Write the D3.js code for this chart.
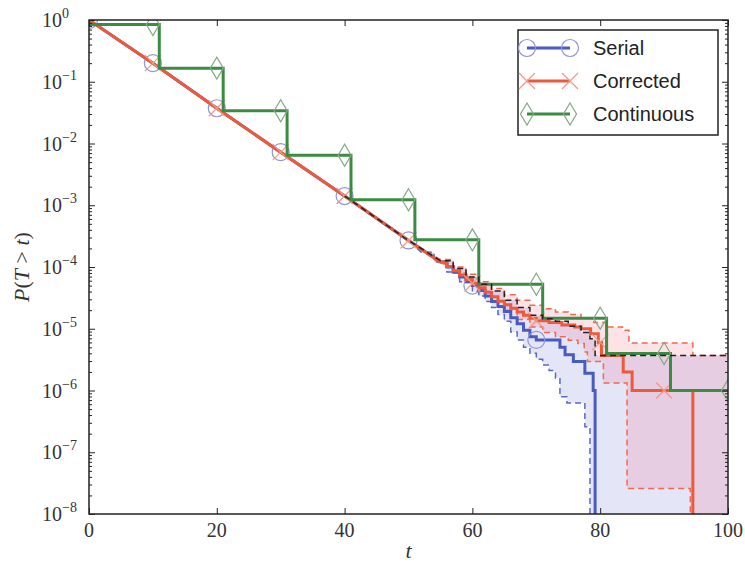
<!DOCTYPE html>
<html>
<head>
<meta charset="utf-8">
<script src="https://cdn.jsdelivr.net/npm/d3@7"></script>
<style>
  body { margin: 0; background: #fff; }
  svg { display: block; }
</style>
</head>
<body>
<div id="chart"></div>
<script>
// straight part shared by all estimators (t <= 50)
const headT = [0, 10, 20, 30, 40, 50];
const headP = [1, 0.20, 0.0372, 0.00724, 0.00141, 2.69e-4];

// Serial estimator: tail steps, then its band (lower dashed / upper black dashed)
const serialT = [55, 56, 57, 58, 59, 60, 61, 62, 63, 64, 65, 66, 67, 68, 69, 70, 73.7, 74.5, 75.8, 77.6, 78.9, 79.2];
const serialP = [1.2e-4, 1.0e-4, 8.3e-5, 6.9e-5, 5.75e-5, 5.0e-5, 4.17e-5, 3.39e-5, 2.75e-5, 2.29e-5, 1.91e-5, 1.51e-5, 1.2e-5, 9.5e-6, 7.4e-6, 6.6e-6, 5.0e-6, 3.8e-6, 2.95e-6, 1.9e-6, 1.0e-6, 0];
const serialLoT = [52, 54, 56, 58, 60, 61, 62, 63, 64, 65, 66, 67, 68, 69, 70, 71, 72, 73, 73.7, 74.8, 77.6, 78.4];
const serialLoP = [1.74e-4, 1.2e-4, 8.3e-5, 5.75e-5, 4.0e-5, 3.4e-5, 2.75e-5, 2.2e-5, 1.7e-5, 1.32e-5, 8.9e-6, 6.6e-6, 5.0e-6, 4.0e-6, 3.2e-6, 2.6e-6, 2.1e-6, 1.6e-6, 7.9e-7, 6.3e-7, 2.6e-7, 0];
const serialHiT = [55, 57, 59, 61, 63, 65, 67, 69, 71, 73, 75, 77, 78.4, 79.2, 100];
const serialHiP = [1.26e-4, 9.5e-5, 6.9e-5, 5.25e-5, 4.1e-5, 2.9e-5, 2.2e-5, 1.66e-5, 1.45e-5, 1.32e-5, 1.1e-5, 8.7e-6, 6.9e-6, 3.7e-6, 3.7e-6];

// Corrected estimator and its band
const correctedT = [55, 56, 57, 58, 59, 60, 61, 62, 63, 64, 65, 66, 67, 68, 69, 70, 72, 74, 76, 77, 78.5, 79.7, 80.2, 83.6, 85, 94.5];
const correctedP = [1.2e-4, 1.02e-4, 8.7e-5, 7.4e-5, 6.3e-5, 5.4e-5, 4.6e-5, 3.9e-5, 3.3e-5, 2.8e-5, 2.45e-5, 2.14e-5, 1.86e-5, 1.66e-5, 1.48e-5, 1.35e-5, 1.26e-5, 1.15e-5, 1.07e-5, 1.0e-5, 8.3e-6, 6.0e-6, 3.7e-6, 2.0e-6, 1.0e-6, 0];
const correctedHiT = [55, 57, 59, 61, 63, 65, 67, 69, 71, 73, 75, 77, 79, 81, 83.5, 84.5, 94.5, 100];
const correctedHiP = [1.32e-4, 1.0e-4, 7.6e-5, 5.75e-5, 4.5e-5, 3.55e-5, 2.9e-5, 2.4e-5, 2.1e-5, 1.86e-5, 1.7e-5, 1.51e-5, 1.26e-5, 1.07e-5, 9.5e-6, 5.9e-6, 3.7e-6, 3.7e-6];
const correctedLoT = [55, 57, 59, 61, 63, 65, 67, 69, 71, 73, 75, 76.5, 77.5, 78, 80.5, 84.2, 94.1];
const correctedLoP = [1.12e-4, 7.9e-5, 5.6e-5, 4.0e-5, 2.8e-5, 2.0e-5, 1.41e-5, 1.07e-5, 8.7e-6, 7.4e-6, 6.5e-6, 5.75e-6, 4.2e-6, 2.95e-6, 1.32e-6, 2.6e-8, 0];

// Continuous: coarse staircase
const continuousT = [0, 11, 21, 31, 41, 51, 61, 71, 81, 91, 100];
const continuousP = [0.845, 0.166, 0.0339, 0.00646, 0.00123, 2.75e-4, 5.25e-5, 1.48e-5, 3.98e-6, 1.0e-6, 1.0e-6];

// markers every 10
const serialMarkT = [0, 10, 20, 30, 40, 50, 60, 70];
const serialMarkP = [1, 0.20, 0.0372, 0.00724, 0.00141, 2.69e-4, 5.0e-5, 6.6e-6];
const correctedMarkT = [10, 20, 30, 40, 50, 60, 70, 80, 90];
const correctedMarkP = [0.20, 0.0372, 0.00724, 0.00141, 2.69e-4, 5.4e-5, 1.35e-5, 6.0e-6, 1.0e-6];
const continuousMarkT = [10, 20, 30, 40, 50, 60, 70, 80, 90, 100];
const continuousMarkP = [0.845, 0.166, 0.0339, 0.00646, 0.00123, 2.75e-4, 5.25e-5, 1.48e-5, 3.98e-6, 1.0e-6];

const xTicks = [0, 20, 40, 60, 80, 100];
const yExponents = [0, -1, -2, -3, -4, -5, -6, -7, -8];
const legendLabels = ["Serial", "Corrected", "Continuous"];

const BLUE = "#4a5bbf", RED = "#ec5a3c", GREEN = "#3b8b43";

const margin = { top: 20, right: 17, bottom: 57, left: 89 };
const width = 745 - margin.left - margin.right;
const height = 571 - margin.top - margin.bottom;

const svg = d3.select("#chart").append("svg")
  .attr("width", 745).attr("height", 571)
  .style("background", "#fff");

const g = svg.append("g").attr("transform", `translate(${margin.left},${margin.top})`);

const x = d3.scaleLinear().domain([0, 100]).range([0, width]);
const y = d3.scaleLog().domain([1e-8, 1]).range([height, 0]);
const yv = p => p > 0 ? y(p) : height + 30;

// head points (linear) followed by step-after points
function curvePts(hT, hP, sT, sP) {
  const pts = hT.map((t, i) => [t, hP[i]]);
  sT.forEach((t, i) => {
    if (i > 0) pts.push([t, sP[i - 1]]);
    pts.push([t, sP[i]]);
  });
  return pts;
}

const line = d3.line().x(d => x(d[0])).y(d => yv(d[1]));

g.append("clipPath").attr("id", "plot-clip")
  .append("rect").attr("width", width).attr("height", height);

const plot = g.append("g").attr("clip-path", "url(#plot-clip)");

const serialPts = curvePts(headT, headP, serialT, serialP);
const serialLo = curvePts(headT, headP, serialLoT, serialLoP);
const serialHi = curvePts(headT.slice(4), headP.slice(4), serialHiT, serialHiP);
const corrPts = curvePts(headT, headP, correctedT, correctedP);
const corrHi = curvePts(headT, headP, correctedHiT, correctedHiP);
const corrLo = curvePts(headT, headP, correctedLoT, correctedLoP);
const contPts = curvePts([], [], continuousT, continuousP);

// bands: upper forward, lower backward; a lower bound that hit zero stays at zero
function band(upper, lower, color) {
  const lo = lower.filter(d => d[0] >= upper[0][0]);
  const endT = upper[upper.length - 1][0];
  if (lo[lo.length - 1][0] < endT) lo.push([endT, 0]);
  plot.append("path")
    .attr("d", line(upper.concat(lo.reverse())) + "Z")
    .attr("fill", color)
    .attr("fill-opacity", 0.15)
    .attr("stroke", "none");
}
band(serialHi, serialLo, "#5050d0");
band(corrHi, corrLo, "#f04060");

function dashed(pts, color) {
  plot.append("path").attr("d", line(pts))
    .attr("fill", "none").attr("stroke", color)
    .attr("stroke-width", 1.5).attr("stroke-dasharray", "6,4");
}
dashed(serialLo, "#5a6ac4");
dashed(corrHi, "#ee6a50");
dashed(corrLo, "#ee6a50");

function solid(pts, color) {
  plot.append("path").attr("d", line(pts))
    .attr("fill", "none").attr("stroke", color)
    .attr("stroke-width", 3).attr("stroke-linejoin", "miter");
}

const markerPath = {
  circle: "M-8.5,0A8.5,8.5 0 1,0 8.5,0A8.5,8.5 0 1,0 -8.5,0Z",
  x: "M-8,-8L8,8M-8,8L8,-8",
  diamond: "M0,-11L6.5,0L0,11L-6.5,0Z"
};

function markers(parent, ts, ps, kind, color) {
  parent.selectAll(null)
    .data(ts.map((t, i) => [t, ps[i]]))
    .enter().append("path")
    .attr("d", markerPath[kind])
    .attr("transform", d => `translate(${x(d[0])},${yv(d[1])})`)
    .attr("fill", "none").attr("stroke", color).attr("stroke-width", 1.2);
}

solid(serialPts, BLUE);
markers(plot, serialMarkT, serialMarkP, "circle", "#8f95d6");
solid(corrPts, RED);
markers(plot, correctedMarkT, correctedMarkP, "x", "#f19a88");
solid(contPts, GREEN);
markers(plot, continuousMarkT, continuousMarkP, "diamond", "#86a886");

// black dashed upper bound of the serial band
plot.append("path").attr("d", line(serialHi))
  .attr("fill", "none").attr("stroke", "#222")
  .attr("stroke-width", 1.5).attr("stroke-dasharray", "6,4");

// ticks (inward, on all four sides)
const majorY = yExponents.map(e => Math.pow(10, e));
const minorY = [];
yExponents.slice(1).forEach(e => { for (let k = 2; k <= 9; k++) minorY.push(k * Math.pow(10, e)); });

function axisG(axis, tx, ty) {
  const a = g.append("g").attr("transform", `translate(${tx},${ty})`).call(axis);
  a.select(".domain").remove();
  a.selectAll("line").attr("stroke", "#222");
  return a;
}
axisG(d3.axisLeft(y).tickValues(majorY).tickSize(-6).tickFormat(""), 0, 0);
axisG(d3.axisLeft(y).tickValues(minorY).tickSize(-3).tickFormat(""), 0, 0);
axisG(d3.axisRight(y).tickValues(majorY).tickSize(-6).tickFormat(""), width, 0);
axisG(d3.axisRight(y).tickValues(minorY).tickSize(-3).tickFormat(""), width, 0);
axisG(d3.axisBottom(x).tickValues(xTicks).tickSize(-6).tickFormat(""), 0, height);
axisG(d3.axisTop(x).tickValues(xTicks).tickSize(-6).tickFormat(""), 0, 0);

// frame
g.append("rect").attr("width", width).attr("height", height)
  .attr("fill", "none").attr("stroke", "#222").attr("stroke-width", 1.5);

const serif = "'Liberation Serif', 'DejaVu Serif', serif";

// y tick labels 10^n
yExponents.forEach(e => {
  const t = g.append("text")
    .attr("x", -47).attr("y", y(Math.pow(10, e))).attr("dy", "0.35em")
    .attr("font-family", serif).attr("font-size", 20).attr("fill", "#333");
  t.append("tspan").text("10");
  t.append("tspan").attr("dy", -9).attr("font-size", 14)
    .text(e < 0 ? "\u2212" + (-e) : String(e));
});

// x tick labels
g.selectAll(".xl").data(xTicks).enter().append("text")
  .attr("x", d => x(d)).attr("y", height + 23)
  .attr("text-anchor", "middle")
  .attr("font-family", serif).attr("font-size", 20).attr("fill", "#333")
  .text(d => d);

// axis labels
g.append("text").attr("x", width / 2).attr("y", height + 44)
  .attr("text-anchor", "middle").attr("font-family", serif)
  .attr("font-size", 22).attr("font-style", "italic").attr("fill", "#333")
  .text("t");

const yl = g.append("text")
  .attr("transform", `translate(-60,${height / 2}) rotate(-90)`)
  .attr("text-anchor", "middle").attr("font-family", serif)
  .attr("font-size", 22).attr("fill", "#333");
[["P", true], ["(", false], ["T", true], [" > ", false], ["t", true], [")", false]]
  .forEach(([s, it]) => yl.append("tspan").attr("font-style", it ? "italic" : "normal").text(s));

// legend
const leg = g.append("g").attr("transform", "translate(429,10)");
leg.append("rect").attr("width", 200).attr("height", 105)
  .attr("fill", "#fff").attr("stroke", "#222").attr("stroke-width", 1.5);
const legItems = [
  { color: BLUE, kind: "circle", mc: "#8f95d6" },
  { color: RED, kind: "x", mc: "#f19a88" },
  { color: GREEN, kind: "diamond", mc: "#86a886" }
];
legItems.forEach((it, i) => {
  const cy = 18 + i * 33;
  leg.append("line").attr("x1", 9).attr("x2", 52).attr("y1", cy).attr("y2", cy)
    .attr("stroke", it.color).attr("stroke-width", 3);
  [9, 52].forEach(cx => leg.append("path").attr("d", markerPath[it.kind])
    .attr("transform", `translate(${cx},${cy})`)
    .attr("fill", "none").attr("stroke", it.mc).attr("stroke-width", 1.2));
  leg.append("text").attr("x", 75).attr("y", cy).attr("dy", "0.36em")
    .attr("font-family", "'Liberation Sans', Arial, sans-serif")
    .attr("font-size", 20).attr("fill", "#222")
    .text(legendLabels[i]);
});
</script>
</body>
</html>
